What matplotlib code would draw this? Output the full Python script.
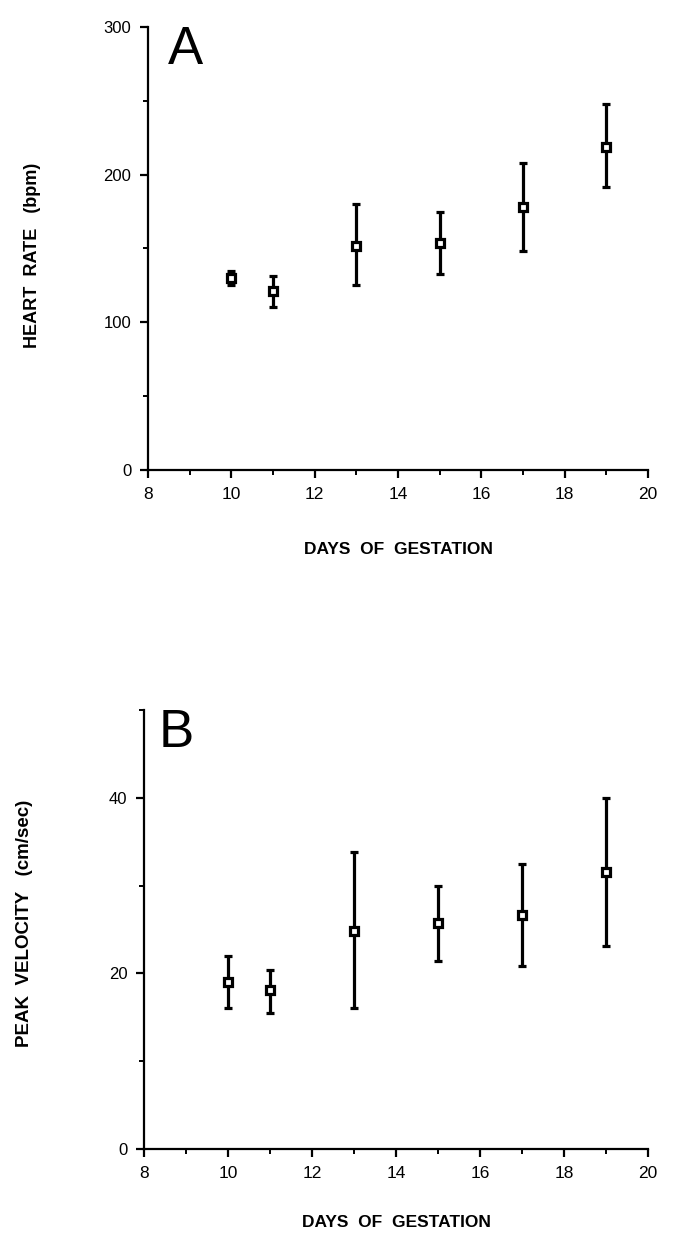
import matplotlib
matplotlib.use("Agg")
import matplotlib.pyplot as plt
from matplotlib.ticker import MultipleLocator
from matplotlib.transforms import Affine2D

plt.rcParams['font.family'] = ['Liberation Sans', 'DejaVu Sans']

# Data
days = [10, 11, 13, 15, 17, 19]

hr_mean = [130, 121, 152, 154, 178, 219]
hr_low = [125, 110.5, 125.5, 133, 148, 191.5]
hr_high = [135, 131.5, 180, 175, 208, 248]

pv_mean = [19.0, 18.1, 24.8, 25.7, 26.6, 31.5]
pv_low = [16.1, 15.5, 16.1, 21.4, 20.8, 23.1]
pv_high = [22.0, 20.4, 33.8, 30.0, 32.5, 40.0]

x_ticks = [8, 10, 12, 14, 16, 18, 20]
hr_ticks = [0, 100, 200, 300]
pv_ticks = [0, 20, 40]

W, H = 685, 1245
fig = plt.figure(figsize=(W / 100, H / 100), dpi=100)

def make_axes(rect):
    l, t, r, b = rect
    return fig.add_axes([l / W, 1 - b / H, (r - l) / W, (b - t) / H])

axA = make_axes((148, 27, 648, 470))
axB = make_axes((144, 710, 648, 1149))

def style(ax, ylab_xy, xpad, mean, low, high, yticks, ylim, yminor, ylabel, yfs, letter, lx, ly):
    yerr = [[m - lo for m, lo in zip(mean, low)], [hi - m for m, hi in zip(mean, high)]]
    ax.errorbar(days, mean, yerr=yerr, fmt='s', mfc='white', mec='black', mew=2.3,
                ms=5.5, ecolor='black', elinewidth=2.3, capsize=3.2, capthick=2.3, zorder=3)
    ax.set_xlim(8, 20)
    ax.set_ylim(*ylim)
    ax.set_xticks(x_ticks)
    ax.set_yticks(yticks)
    ax.xaxis.set_minor_locator(MultipleLocator(1))
    ax.yaxis.set_minor_locator(MultipleLocator(yminor))
    for s in ['top', 'right']:
        ax.spines[s].set_visible(False)
    for s in ['left', 'bottom']:
        ax.spines[s].set_linewidth(1.6)
    ax.tick_params(which='major', direction='out', length=6, width=1.6, pad=6)
    ax.tick_params(axis='x', labelsize=12.5)
    ax.tick_params(axis='y', labelsize=12)
    ax.tick_params(which='minor', direction='out', length=3.5, width=1.4)
    ax.set_xlabel('DAYS  OF  GESTATION', fontsize=12.5, fontweight='bold', labelpad=xpad)
    ax.set_ylabel(ylabel, fontsize=yfs, fontweight='bold')
    ax.yaxis.label.set_va('center')
    ax.yaxis.label.set_ha('center')
    px = Affine2D().scale(1.0, -1.0).translate(0, H)
    ax.yaxis.set_label_coords(ylab_xy[0], ylab_xy[1], transform=px)
    ax.text(lx, ly, letter, transform=ax.transAxes, fontsize=38, va='top', ha='left')
    ax.patch.set_alpha(0)

style(axA, (33, 255), 29, hr_mean, hr_low, hr_high, hr_ticks, (0, 300), 50,
      'HEART  RATE   (bpm)', 13, 'A', 0.04, 1.005)
style(axB, (25, 923), 25, pv_mean, pv_low, pv_high, pv_ticks, (0, 50), 10,
      'PEAK  VELOCITY   (cm/sec)', 13.5, 'B', 0.03, 1.005)

fig.savefig('out.png', dpi=100, facecolor='white')
